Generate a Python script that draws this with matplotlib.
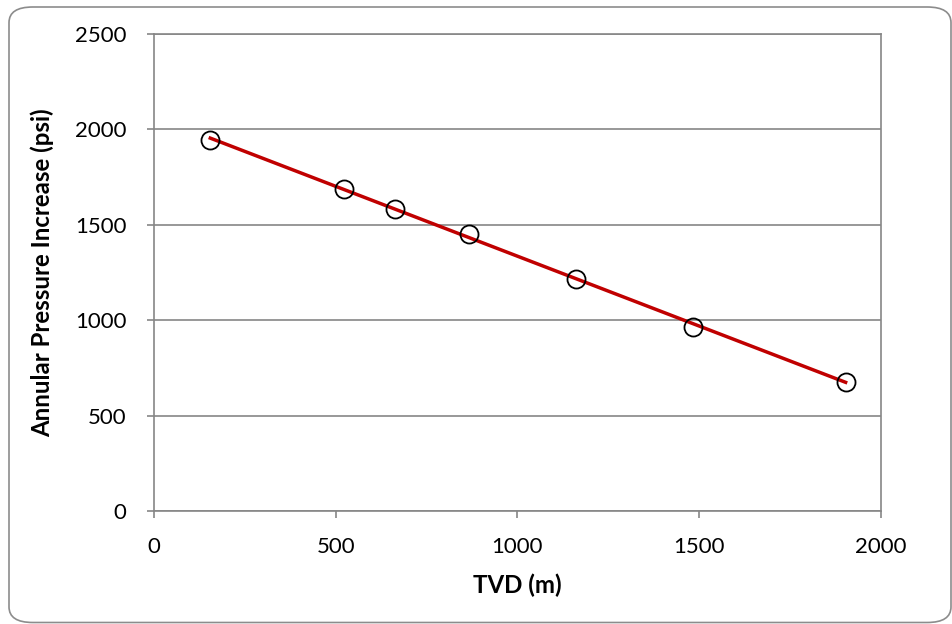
import matplotlib.pyplot as plt
import numpy as np
from matplotlib.patches import FancyBboxPatch

plt.rcParams['font.family'] = ['Lato', 'DejaVu Sans']

tvd = [155, 523, 664, 867, 1163, 1484, 1904]
pressure = [1944, 1689, 1581, 1453, 1216, 966, 678]
x_ticks = [0, 500, 1000, 1500, 2000]
y_ticks = [0, 500, 1000, 1500, 2000, 2500]

W, H = 953, 624
fig = plt.figure(figsize=(W / 100, H / 100), dpi=100)

# rounded chart border
border = FancyBboxPatch((9 / W, 1.5 / H), (942 / W), (615.5 / H),
                        boxstyle="round,pad=0,rounding_size=0.025",
                        transform=fig.transFigure, facecolor="none",
                        edgecolor="#8c8c8c", linewidth=1.2, zorder=-10)
fig.patches.append(border)

ax = fig.add_axes([154 / W, 1 - 511 / H, 726.5 / W, 477 / H])
ax.set_zorder(1)
ax.set_facecolor("none")

grey = "#868686"
ax.grid(axis="y", color=grey, linewidth=1.2)
ax.set_axisbelow(True)

# linear trend through the data
coef = np.polyfit(tvd, pressure, 1)
xs = np.array([min(tvd), max(tvd)])
ax.plot(xs, np.polyval(coef, xs), color="#c00000", linewidth=2.5, zorder=3)
ax.plot(tvd, pressure, linestyle="none", marker="o", markersize=13,
        markerfacecolor="none", markeredgecolor="black", markeredgewidth=1.3,
        zorder=4)

ax.set_xlim(0, 2000)
ax.set_ylim(0, 2500)
ax.set_xticks(x_ticks)
ax.set_yticks(y_ticks)
for s in ax.spines.values():
    s.set_color(grey)
    s.set_linewidth(1.2)
ax.tick_params(axis="both", direction="out", length=5, width=1.2, color=grey,
               labelsize=16, labelcolor="black")
ax.tick_params(axis="y", pad=15)
ax.tick_params(axis="x", pad=14)

ax.set_xlabel("TVD (m)", fontsize=17.3, fontweight="bold")
ax.set_ylabel("Annular Pressure Increase (psi)", fontsize=17.3, fontweight="bold")
ax.xaxis.set_label_coords(0.5, -0.132)
ax.yaxis.set_label_coords(-0.137, 0.5)

fig.savefig("out.png", dpi=100)
